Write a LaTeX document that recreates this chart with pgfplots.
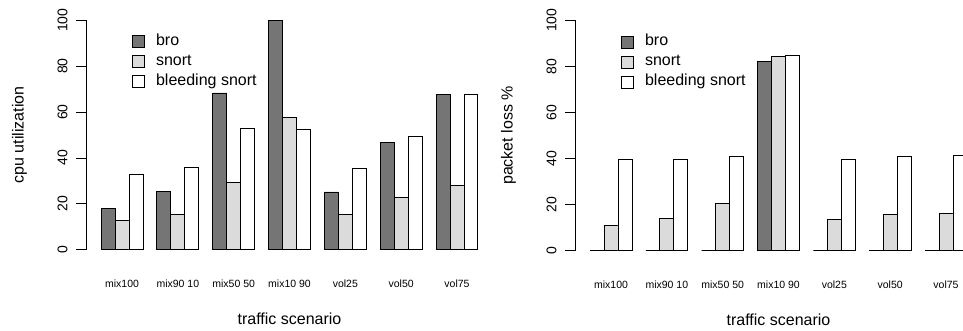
\documentclass[border=0pt]{standalone}
\usepackage{fontspec}
\setmainfont{Liberation Sans}
\usepackage{pgfplots}
\usepackage{pgfplotstable}
\pgfplotsset{compat=1.18}

\definecolor{brofill}{gray}{0.46}
\definecolor{snortfill}{gray}{0.86}

\pgfplotstableread{
x bro snort bleed
2.5 18.0 12.8 32.9
6.5 25.3 15.4 35.7
10.5 68.3 29.4 52.9
14.5 100 57.8 52.2
18.5 25.2 15.2 35.5
22.5 46.8 22.6 49.3
26.5 67.8 28.1 67.8
}\cputable

\pgfplotstableread{
x bro snort bleed
2.5 0 10.8 39.8
6.5 0 13.9 39.8
10.5 0 20.5 41.0
14.5 82.0 84.2 84.6
18.5 0 13.4 39.5
22.5 0 15.6 41.1
26.5 0 16.3 41.3
}\losstable

\pgfplotsset{
  rbar/.style={
    scale only axis,
    width=407pt,
    xmin=-0.08, xmax=29.08,
    ymin=-4, ymax=104,
    clip=false,
    axis lines*=left,
    axis line style={draw=none},
    tick align=outside,
    major tick length=10pt,
    xtick={2.5,6.5,10.5,14.5,18.5,22.5,26.5},
    xticklabels={mix100,mix90 10,mix50 50,mix10 90,vol25,vol50,vol75},
    x tick style={draw=none},
    xticklabel style={font=\fontsize{10.5}{12}\selectfont, yshift=-7pt},
    ytick={0,20,40,60,80,100},
    y tick style={black, line width=0.9pt},
    yticklabel shift=5pt,
    yticklabel style={font=\fontsize{14}{16}\selectfont, rotate=90, anchor=south},
    /pgf/number format/assume math mode=true,
    every axis x label/.style={at={(axis cs:14.5,-30)}, anchor=center, font=\fontsize{16}{19}\selectfont},
    every axis y label/.style={at={(axis cs:-4.85,50)}, rotate=90, anchor=center, font=\fontsize{16}{19}\selectfont},
    xlabel={traffic scenario},
    legend image code/.code={%
      \draw[#1, line width=0.9pt] (0pt,-6pt) rectangle (12pt,6pt);
      \path (21pt,0pt);},
    legend cell align=left,
    legend style={draw=none, fill=none, anchor=north west,
      font=\fontsize{16}{19}\selectfont, row sep=4pt,
      nodes={inner ysep=0pt, text height=12pt, text depth=4pt}},
  },
  brobar/.style={ybar, bar width=13.97pt, bar shift=0pt, draw=black, line width=0.9pt, fill=brofill},
  snortbar/.style={ybar, bar width=13.97pt, bar shift=0pt, draw=black, line width=0.9pt, fill=snortfill},
  bleedbar/.style={ybar, bar width=13.97pt, bar shift=0pt, draw=black, line width=0.9pt, fill=white},
}

\begin{document}
\begin{tikzpicture}
\useasboundingbox (0pt,0pt) rectangle (963pt,330pt);
\begin{axis}[rbar, at={(86pt,71pt)}, anchor=south west, height=248pt,
  ylabel={cpu utilization},
  legend style={at={(axis cs:3.0,95)}}]
  \addplot[brobar] table[x expr=\thisrow{x}-1, y=bro] {\cputable};
  \addplot[snortbar] table[x=x, y=snort] {\cputable};
  \addplot[bleedbar] table[x expr=\thisrow{x}+1, y=bleed] {\cputable};
  \legend{bro, snort, bleeding snort}
  \draw[line width=0.9pt] (axis cs:-0.08,0) -- (axis cs:-0.08,100);
\end{axis}
\begin{axis}[rbar, at={(575pt,70pt)}, anchor=south west, height=249pt,
  ylabel={packet loss \%},
  legend style={at={(axis cs:3.0,95)}}]
  \addplot[brobar] table[x expr=\thisrow{x}-1, y=bro] {\losstable};
  \addplot[snortbar] table[x=x, y=snort] {\losstable};
  \addplot[bleedbar] table[x expr=\thisrow{x}+1, y=bleed] {\losstable};
  \legend{bro, snort, bleeding snort}
  \draw[line width=0.9pt] (axis cs:-0.08,0) -- (axis cs:-0.08,100);
\end{axis}
\end{tikzpicture}
\end{document}
